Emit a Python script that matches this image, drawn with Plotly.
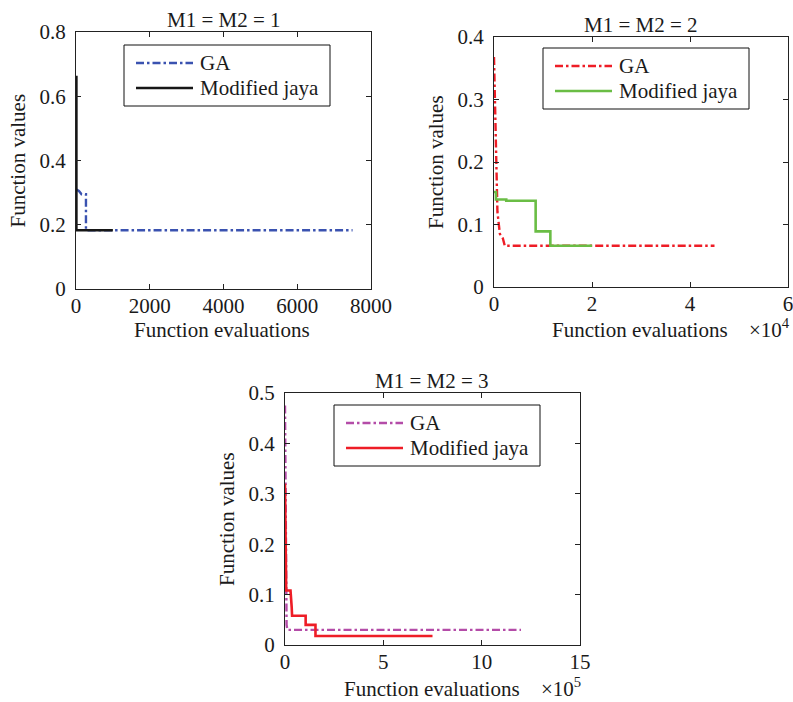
import plotly.graph_objects as go

# ---- data: best function value vs. number of function evaluations ----
# Case M1 = M2 = 1 (evaluations)
ga1_x = [0, 80, 150, 270, 270, 7500]
ga1_y = [0.31, 0.305, 0.295, 0.295, 0.183, 0.183]
jaya1_x = [0, 10, 1000]
jaya1_y = [0.66, 0.183, 0.183]

# Case M1 = M2 = 2 (evaluations x 10^4)
ga2_x = [0, 0.02, 0.04, 0.07, 0.12, 0.18, 0.22, 4.5]
ga2_y = [0.368, 0.30, 0.21, 0.12, 0.085, 0.078, 0.066, 0.066]
jaya2_x = [0, 0.04, 0.25, 0.85, 1.15, 2.0]
jaya2_y = [0.152, 0.14, 0.138, 0.089, 0.066, 0.066]

# Case M1 = M2 = 3 (evaluations x 10^5)
ga3_x = [0, 0.04, 0.08, 0.12, 12]
ga3_y = [0.475, 0.25, 0.04, 0.03, 0.03]
jaya3_x = [0, 0.06, 0.28, 0.30, 0.34, 0.36, 1.05, 1.05, 1.55, 1.55, 7.5]
jaya3_y = [0.32, 0.108, 0.108, 0.08, 0.075, 0.058, 0.058, 0.04, 0.04, 0.018, 0.018]

titles = ["M1 = M2 = 1", "M1 = M2 = 2", "M1 = M2 = 3"]
series_names = ["GA", "Modified jaya"]
x_title = "Function evaluations"
y_title = "Function values"
x_ticks = [[0, 2000, 4000, 6000, 8000], [0, 2, 4, 6], [0, 5, 10, 15]]
y_ticks = [[0, 0.2, 0.4, 0.6, 0.8], [0, 0.1, 0.2, 0.3, 0.4], [0, 0.1, 0.2, 0.3, 0.4, 0.5]]
x_ranges = [[0, 8000], [0, 6], [0, 15]]
y_ranges = [[0, 0.8], [0, 0.4], [0, 0.5]]
exponents = [None, "×10<sup>4</sup>", "×10<sup>5</sup>"]

W, H = 793, 702
FONT = "Liberation Serif"
FS = 21
TXT = "#1a1a1a"
DASHDOT = "8px,3px,2.5px,3px"

# panel boxes in pixels: left, right, top, bottom
boxes = [(76, 371, 32, 289), (494, 788, 37, 287), (285, 580, 393, 645)]
# legend box top-left corners in pixels
legend_pos = [(124, 45), (543, 48), (334, 405)]
LEG_W, LEG_H = 206, 61
# x-title centre y, below each panel
xtitle_y = [330, 330, 689]

def px_x(v):
    return v / W

def px_y(v):
    return 1 - v / H

panels = [
    (ga1_x, ga1_y, jaya1_x, jaya1_y, "#3a52b0", "#161616"),
    (ga2_x, ga2_y, jaya2_x, jaya2_y, "#ee1d26", "#6abd45"),
    (ga3_x, ga3_y, jaya3_x, jaya3_y, "#b44ca8", "#ee1d26"),
]
jaya_shapes = ["hv", "hv", "linear"]

fig = go.Figure()

for i, (gx, gy, jx, jy, gcol, jcol) in enumerate(panels):
    ax = "" if i == 0 else str(i + 1)
    fig.add_trace(go.Scatter(
        x=gx, y=gy, mode="lines", name=series_names[0], showlegend=False,
        line=dict(color=gcol, width=2.4, dash=DASHDOT),
        xaxis="x" + ax, yaxis="y" + ax,
    ))
    fig.add_trace(go.Scatter(
        x=jx, y=jy, mode="lines", name=series_names[1], showlegend=False,
        line=dict(color=jcol, width=2.6, shape=jaya_shapes[i]),
        xaxis="x" + ax, yaxis="y" + ax,
    ))

layout = dict(
    width=W, height=H, autosize=False,
    margin=dict(l=0, r=0, t=0, b=0, pad=0, autoexpand=False),
    paper_bgcolor="white", plot_bgcolor="white",
    font=dict(family=FONT, size=FS, color=TXT),
    showlegend=False,
    annotations=[], shapes=[],
)

def text(t, x, y, xanchor="center", yanchor="middle", angle=0):
    return dict(
        text=t, xref="paper", yref="paper", x=px_x(x), y=px_y(y),
        xanchor=xanchor, yanchor=yanchor, textangle=angle, showarrow=False,
        font=dict(family=FONT, size=FS, color=TXT),
    )

for i, (l, r, t, b) in enumerate(boxes):
    ax = "" if i == 0 else str(i + 1)
    common = dict(
        showline=True, linecolor="#222", linewidth=1, mirror="ticks",
        ticks="inside", ticklen=5, tickcolor="#222", tickwidth=1,
        showgrid=False, zeroline=False, automargin=False,
        ticklabeloverflow="allow",
        tickfont=dict(family=FONT, size=FS, color=TXT),
    )
    layout["xaxis" + ax] = dict(
        common, domain=[px_x(l), px_x(r)], range=x_ranges[i],
        tickvals=x_ticks[i], anchor="y" + ax, ticklabelstandoff=-2,
    )
    layout["yaxis" + ax] = dict(
        common, domain=[px_y(b), px_y(t)], range=y_ranges[i],
        tickvals=y_ticks[i], anchor="x" + ax, ticklabelstandoff=5,
    )

    # panel title and axis titles
    layout["annotations"].append(text(titles[i], (l + r) / 2, t - 12))
    layout["annotations"].append(text(x_title, (l + r) / 2 - 1, xtitle_y[i]))
    layout["annotations"].append(text(y_title, l - 58, (t + b) / 2, angle=-90))
    if exponents[i]:
        layout["annotations"].append(
            text(exponents[i], r - 41, xtitle_y[i] - 2, xanchor="left"))

    # legend: framed box with line keys and labels
    lx, ly = legend_pos[i]
    gcol, jcol = panels[i][4], panels[i][5]
    layout["shapes"].append(dict(
        type="rect", xref="paper", yref="paper",
        x0=px_x(lx), x1=px_x(lx + LEG_W), y0=px_y(ly), y1=px_y(ly + LEG_H),
        line=dict(color="#111", width=1), fillcolor="white", layer="above",
    ))
    for k, (col, dash, w) in enumerate([(gcol, DASHDOT, 2.4), (jcol, "solid", 2.6)]):
        row_y = ly + 18 + 25 * k
        layout["shapes"].append(dict(
            type="line", xref="paper", yref="paper",
            x0=px_x(lx + 12), x1=px_x(lx + 69), y0=px_y(row_y), y1=px_y(row_y),
            line=dict(color=col, width=w, dash=dash), layer="above",
        ))
        layout["annotations"].append(
            text(series_names[k], lx + 74, row_y, xanchor="left"))

fig.update_layout(**layout)
fig.write_html("out.html")
